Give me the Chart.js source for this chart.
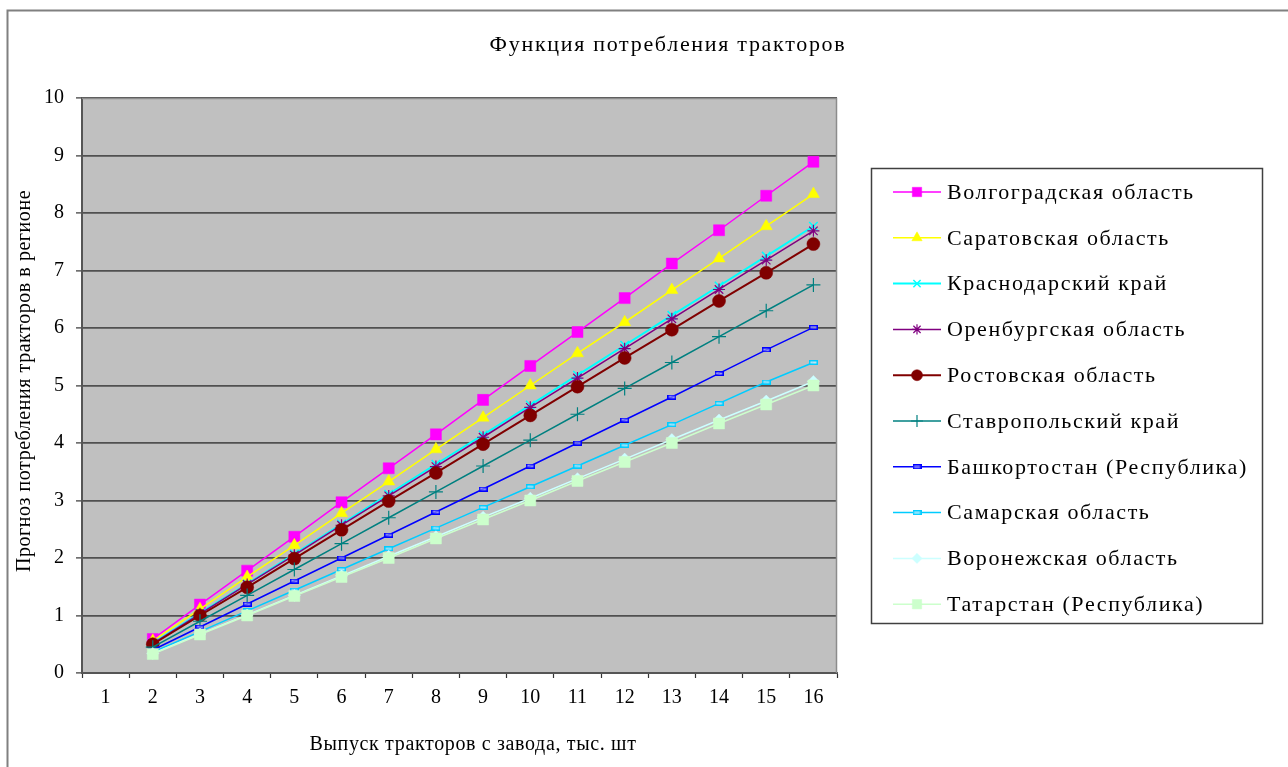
<!DOCTYPE html>
<html>
<head>
<meta charset="utf-8">
<script src="https://cdn.jsdelivr.net/npm/chart.js@4/dist/chart.umd.min.js"></script>
<style>
html,body{margin:0;padding:0;background:#fff;}
#wrap{width:1288px;height:767px;position:relative;}
</style>
</head>
<body>
<div id="wrap"><canvas id="c" width="1288" height="767"></canvas></div>
<script>
const categories = ['1','2','3','4','5','6','7','8','9','10','11','12','13','14','15','16'];
const seriesNames = ['Волгоградская область','Саратовская область','Краснодарский край','Оренбургская область','Ростовская область','Ставропольский край','Башкортостан (Республика)','Самарская область','Воронежская область','Татарстан (Республика)'];
const volgograd   = [null,0.59,1.19,1.78,2.37,2.97,3.56,4.15,4.75,5.34,5.93,6.52,7.12,7.70,8.30,8.89];
const saratov     = [null,0.56,1.11,1.67,2.22,2.78,3.33,3.89,4.44,5.00,5.56,6.10,6.66,7.21,7.77,8.33];
const krasnodar   = [null,0.52,1.04,1.55,2.07,2.59,3.11,3.63,4.14,4.66,5.18,5.70,6.22,6.73,7.25,7.77];
const orenburg    = [null,0.51,1.03,1.54,2.05,2.57,3.08,3.59,4.10,4.62,5.13,5.64,6.16,6.67,7.18,7.69];
const rostov      = [null,0.50,1.00,1.49,1.99,2.49,2.99,3.48,3.98,4.48,4.98,5.48,5.97,6.47,6.96,7.46];
const stavropol   = [null,0.45,0.90,1.35,1.80,2.25,2.70,3.15,3.60,4.05,4.50,4.95,5.40,5.85,6.30,6.75];
const bashkortostan=[null,0.40,0.80,1.20,1.60,2.00,2.40,2.80,3.20,3.60,4.00,4.40,4.80,5.21,5.62,6.01];
const samara      = [null,0.36,0.72,1.08,1.44,1.80,2.16,2.52,2.88,3.24,3.60,3.96,4.32,4.69,5.06,5.40];
const voronezh    = [null,0.34,0.68,1.01,1.35,1.69,2.03,2.37,2.71,3.04,3.38,3.72,4.06,4.40,4.73,5.07];
const tatarstan   = [null,0.33,0.67,1.00,1.34,1.67,2.00,2.34,2.67,3.00,3.34,3.67,4.00,4.34,4.67,5.00];
const yTicks = [0,1,2,3,4,5,6,7,8,9,10];

function rectMarker(stroke, fill){
  const cv = document.createElement('canvas');
  cv.width = 9; cv.height = 5;
  const c = cv.getContext('2d');
  c.fillStyle = fill; c.fillRect(0,0,9,5);
  c.strokeStyle = stroke; c.lineWidth = 1.5; c.strokeRect(0.75,0.75,7.5,3.5);
  return cv;
}
const bashMarker = rectMarker('#0000FF','rgba(200,200,255,0.6)');
const samMarker = rectMarker('#00CCFF','rgba(210,240,255,0.7)');

const allValues = [volgograd,saratov,krasnodar,orenburg,rostov,stavropol,bashkortostan,samara,voronezh,tatarstan];
const styles = [
  {c:'#FF00FF', ps:'rect', r:7.8, w:1.5},
  {c:'#FFFF00', ps:'triangle', r:7, w:1.5},
  {c:'#00FFFF', ps:'crossRot', r:6, w:2, bw:1.5},
  {c:'#800080', ps:'star', r:6, w:1.5, bw:1.2},
  {c:'#800000', ps:'circle', r:6.5, w:2},
  {c:'#008080', ps:'cross', r:7, w:1.5, bw:1.2},
  {c:'#0000FF', ps:bashMarker, r:5, w:1.5},
  {c:'#00CCFF', ps:samMarker, r:5, w:1.5},
  {c:'#CCFFFF', ps:'rectRot', r:6, w:1.5},
  {c:'#CCFFCC', ps:'rect', r:7.8, w:1.5}
];

const datasets = allValues.map((vals,i)=>({
  label: seriesNames[i],
  data: vals,
  borderColor: styles[i].c,
  backgroundColor: styles[i].c,
  borderWidth: styles[i].w,
  pointStyle: styles[i].ps,
  pointRadius: styles[i].r,
  pointBorderWidth: styles[i].bw || 0.5,
  pointBorderColor: styles[i].c,
  pointBackgroundColor: styles[i].c,
  tension: 0,
  order: 9 - i
}));

const SERIF = '"Liberation Serif", "Times New Roman", serif';

function spaced(ctx, px){ try { ctx.letterSpacing = px + 'px'; } catch(e) {} }

const decor = {
  id: 'decor',
  beforeDraw(chart){
    const ctx = chart.ctx, a = chart.chartArea;
    ctx.save();
    ctx.fillStyle = '#fff';
    ctx.fillRect(0,0,chart.width,chart.height);
    ctx.strokeStyle = '#808080'; ctx.lineWidth = 2;
    ctx.strokeRect(7.5,10.5,1400,900);
    ctx.fillStyle = '#C0C0C0';
    ctx.fillRect(a.left,a.top,a.right-a.left,a.bottom-a.top);
    ctx.restore();
  },
  afterDraw(chart){
    const ctx = chart.ctx, a = chart.chartArea;
    ctx.save();
    ctx.strokeStyle = '#8c8c8c'; ctx.lineWidth = 1.5;
    ctx.beginPath(); ctx.moveTo(a.left,a.top+0.5); ctx.lineTo(a.right-0.5,a.top+0.5); ctx.lineTo(a.right-0.5,a.bottom); ctx.stroke();
    ctx.fillStyle = '#000';
    ctx.textAlign = 'center'; ctx.textBaseline = 'middle';
    ctx.font = '22px ' + SERIF;
    spaced(ctx, 1.7);
    ctx.fillText('Функция потребления тракторов', 668, 45);
    ctx.font = '20px ' + SERIF;
    spaced(ctx, 0.65);
    ctx.fillText('Выпуск тракторов с завода, тыс. шт', 473, 745);
    ctx.save();
    ctx.translate(25, 381); ctx.rotate(-Math.PI/2);
    spaced(ctx, 0.55);
    ctx.fillText('Прогноз потребления тракторов в регионе', 0, 0);
    ctx.restore();
    spaced(ctx, 0);
    ctx.fillStyle = '#fff';
    ctx.fillRect(871,168,392,456);
    ctx.strokeStyle = '#404040'; ctx.lineWidth = 1.5;
    ctx.strokeRect(871.5,168.5,391,455);
    ctx.font = '22px ' + SERIF;
    ctx.textAlign = 'left';
    const y0 = 192, dy = 45.8;
    chart.data.datasets.forEach((ds,i)=>{
      const y = y0 + i*dy;
      spaced(ctx, 0);
      ctx.strokeStyle = ds.borderColor; ctx.lineWidth = ds.borderWidth;
      ctx.beginPath(); ctx.moveTo(893,y); ctx.lineTo(941,y); ctx.stroke();
      ctx.fillStyle = ds.pointBackgroundColor; ctx.strokeStyle = ds.pointBorderColor;
      ctx.lineWidth = ds.pointBorderWidth;
      Chart.helpers.drawPoint(ctx, {pointStyle: ds.pointStyle, radius: ds.pointRadius*0.85, rotation: 0, borderWidth: ds.pointBorderWidth}, 917, y);
      ctx.fillStyle = '#000';
      spaced(ctx, 1.6);
      ctx.fillText(ds.label, 947, y+1);
    });
    spaced(ctx, 0);
    ctx.restore();
  }
};

new Chart(document.getElementById('c'), {
  type: 'line',
  data: { labels: categories, datasets },
  options: {
    responsive: false,
    animation: false,
    layout: { padding: { left: 0, top: 98, right: 451, bottom: 0 } },
    plugins: { legend: { display: false }, title: { display: false }, tooltip: { enabled: false } },
    scales: {
      x: {
        type: 'category',
        offset: true,
        grid: { offset: true, drawOnChartArea: false, drawTicks: true, tickLength: 5, color: '#333', tickWidth: 1.2 },
        border: { display: true, color: '#555', width: 2 },
        ticks: { color: '#000', font: { family: SERIF, size: 20 }, padding: 8, maxRotation: 0, autoSkip: false },
        afterFit(s){ s.height = 94; }
      },
      y: {
        min: 0, max: 10,
        afterBuildTicks(s){ s.ticks = yTicks.map(v=>({value:v})); },
        grid: { color: '#505050', lineWidth: 1.8, tickLength: 6, tickColor: '#333', tickWidth: 1.2 },
        border: { display: true, color: '#555', width: 2 },
        ticks: { color: '#000', font: { family: SERIF, size: 20 }, padding: 12 },
        afterFit(s){ s.width = 82; }
      }
    }
  },
  plugins: [decor]
});
</script>
</body>
</html>
